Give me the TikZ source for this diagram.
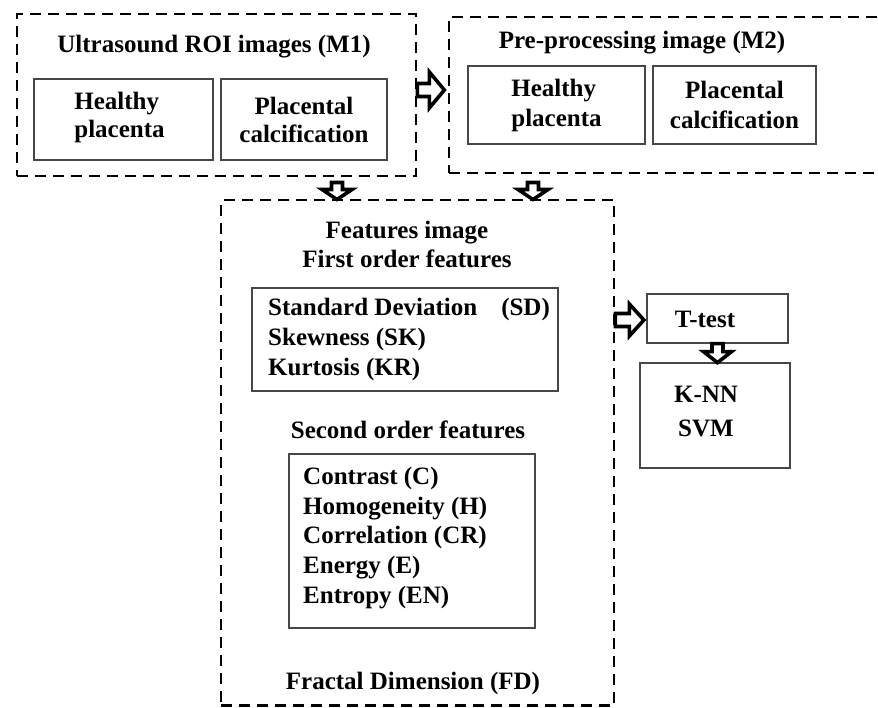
\documentclass[tikz,border=0pt]{standalone}
\usepackage{fontspec}
\setmainfont{Liberation Serif}
\usetikzlibrary{calc}

% hollow block arrow: #1 tail point, #2 direction angle, #3 total length,
% #4 shaft length, #5 shaft half width, #6 head half width
\newcommand{\hollowarrow}[6]{%
  \draw[arrowline, shift={#1}, rotate=#2]
    (0,-#5) -- (#4,-#5) -- (#4,-#6) -- (#3,0) -- (#4,#6) -- (#4,#5) -- (0,#5) -- cycle;}

\begin{document}
\begin{tikzpicture}[x=1pt, y=-1pt,
  dashbox/.style={draw, dash pattern=on 11pt off 7pt, line width=2.7pt, inner sep=0},
  solidbox/.style={draw=black!72, line width=1.3pt, inner sep=0},
  txt/.style={font=\bfseries\fontsize{25}{29}\selectfont, inner sep=0},
  arrowline/.style={draw, line width=3.6pt, fill=white, line join=miter},
]
\useasboundingbox[fill=white] (0,0) rectangle (878,707);

% --- M1: ultrasound ROI images
\node[dashbox, minimum width=399, minimum height=162] (m1) at (216.5,95) {};
\node[txt] (m1t) at (214,47) {Ultrasound ROI images (M1)};
\node[solidbox, minimum width=179, minimum height=81] (h1) at (123.5,119.5) {};
\node[txt, align=left, font=\bfseries\fontsize{25}{28}\selectfont] (h1t) at (119.5,117.5) {Healthy\\placenta};
\node[solidbox, txt, minimum width=166, minimum height=81, align=center,
      font=\bfseries\fontsize{25}{28}\selectfont] (c1) at (304,119.5) {Placental\\calcification};

% --- M2: pre-processing image
\node[dashbox, minimum width=451, minimum height=156] (m2) at (674.5,95) {};
\node[txt] (m2t) at (642,43) {Pre-processing image (M2)};
\node[solidbox, txt, minimum width=177, minimum height=78, align=left,
      font=\bfseries\fontsize{25}{30}\selectfont] (h2) at (556.5,105) {Healthy\\placenta};
\node[solidbox, txt, minimum width=163, minimum height=78, align=center,
      font=\bfseries\fontsize{25}{30}\selectfont] (c2) at (734.5,105) {Placental\\calcification};

% --- features
\node[dashbox, minimum width=393, minimum height=505.5] (fe) at (417.5,452.75) {};
\node[txt, align=center] (fet) at (407,244.5) {Features image\\First order features};
\node[solidbox, minimum width=306, minimum height=103] (fo) at (405,339.5) {};
\node[txt, anchor=west, align=left, font=\bfseries\fontsize{25}{30}\selectfont] (fol) at (268,339)
  {Standard Deviation\hspace{24pt}(SD)\\Skewness (SK)\\Kurtosis (KR)};
\node[txt] (sot) at (408,430) {Second order features};
\node[solidbox, minimum width=246, minimum height=174] (so) at (412,541) {};
\node[txt, anchor=west, align=left, font=\bfseries\fontsize{25}{29.75}\selectfont] (sol) at (303,538)
  {Contrast (C)\\Homogeneity (H)\\Correlation (CR)\\Energy (E)\\Entropy (EN)};
\node[txt] (fd) at (413,683) {Fractal Dimension (FD)};

% --- test and classifiers
\node[solidbox, minimum width=141, minimum height=49] (tt) at (717.5,318.5) {};
\node[txt] (ttl) at (705,319) {T-test};
\node[solidbox, minimum width=150, minimum height=105] (cl) at (715,415.5) {};
\node[txt, align=center, font=\bfseries\fontsize{25}{34}\selectfont] (cll) at (706,411) {K-NN\\SVM};

% --- block arrows between the stages
\hollowarrow{($(m1.east)+(0,-5)$)}{0}{27}{12}{6.5}{18}
\hollowarrow{(337,182.5)}{-90}{17}{7}{5.5}{15}
\hollowarrow{(533,182.5)}{-90}{17}{7}{5.5}{15}
\hollowarrow{($(fe.east)+(0,-132.75)$)}{0}{28.5}{14}{6.5}{16}
\hollowarrow{(tt.south)}{-90}{19}{8}{5.5}{14}
\end{tikzpicture}
\end{document}
